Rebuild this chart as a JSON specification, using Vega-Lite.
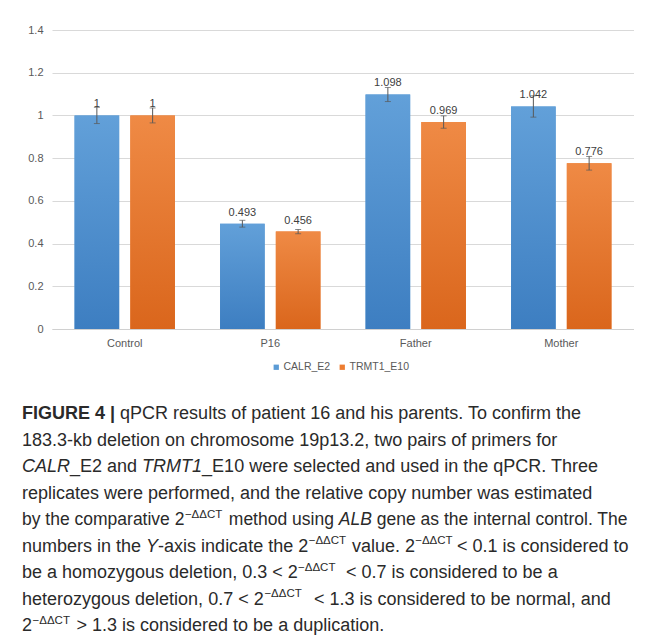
{
  "$schema": "https://vega.github.io/schema/vega-lite/v6.json",
  "background": "white",
  "padding": {"left": 22, "top": 24, "right": 0, "bottom": 0},
  "spacing": 57,
  "config": {
    "view": {"stroke": null},
    "font": "Liberation Sans",
    "text": {"color": "#2a2a2a", "font": "Liberation Sans", "fontSize": 18, "align": "left", "baseline": "alphabetic"}
  },
  "datasets": {
    "bars": [
      {"group": "Control", "series": "CALR_E2", "value": 1, "lo": 0.962, "hi": 1.038},
      {"group": "Control", "series": "TRMT1_E10", "value": 1, "lo": 0.965, "hi": 1.035},
      {"group": "P16", "series": "CALR_E2", "value": 0.493, "lo": 0.477, "hi": 0.509},
      {"group": "P16", "series": "TRMT1_E10", "value": 0.456, "lo": 0.446, "hi": 0.466},
      {"group": "Father", "series": "CALR_E2", "value": 1.098, "lo": 1.065, "hi": 1.131},
      {"group": "Father", "series": "TRMT1_E10", "value": 0.969, "lo": 0.94, "hi": 0.998},
      {"group": "Mother", "series": "CALR_E2", "value": 1.042, "lo": 0.992, "hi": 1.092},
      {"group": "Mother", "series": "TRMT1_E10", "value": 0.776, "lo": 0.744, "hi": 0.808}
    ],
    "caption": [
      {"id": "1a", "line": 1, "text": "FIGURE 4 |"},
      {"id": "1b", "line": 1, "text": "qPCR results of patient 16 and his parents. To confirm the"},
      {"id": "2a", "line": 2, "text": "183.3-kb deletion on chromosome 19p13.2, two pairs of primers for"},
      {"id": "3a", "line": 3, "text": "CALR"},
      {"id": "3b", "line": 3, "text": "_E2 and"},
      {"id": "3c", "line": 3, "text": "TRMT1"},
      {"id": "3d", "line": 3, "text": "_E10 were selected and used in the qPCR. Three"},
      {"id": "4a", "line": 4, "text": "replicates were performed, and the relative copy number was estimated"},
      {"id": "5a", "line": 5, "text": "by the comparative 2"},
      {"id": "5s", "line": 5, "text": "−ΔΔCT"},
      {"id": "5b", "line": 5, "text": "method using"},
      {"id": "5c", "line": 5, "text": "ALB"},
      {"id": "5d", "line": 5, "text": "gene as the internal control. The"},
      {"id": "6a", "line": 6, "text": "numbers in the"},
      {"id": "6b", "line": 6, "text": "Y"},
      {"id": "6c", "line": 6, "text": "-axis indicate the 2"},
      {"id": "6s1", "line": 6, "text": "−ΔΔCT"},
      {"id": "6d", "line": 6, "text": "value. 2"},
      {"id": "6s2", "line": 6, "text": "−ΔΔCT"},
      {"id": "6e", "line": 6, "text": "< 0.1 is considered to"},
      {"id": "7a", "line": 7, "text": "be a homozygous deletion, 0.3 < 2"},
      {"id": "7s", "line": 7, "text": "−ΔΔCT"},
      {"id": "7b", "line": 7, "text": "< 0.7 is considered to be a"},
      {"id": "8a", "line": 8, "text": "heterozygous deletion, 0.7 < 2"},
      {"id": "8s", "line": 8, "text": "−ΔΔCT"},
      {"id": "8b", "line": 8, "text": "< 1.3 is considered to be normal, and"},
      {"id": "9a", "line": 9, "text": "2"},
      {"id": "9s", "line": 9, "text": "−ΔΔCT"},
      {"id": "9b", "line": 9, "text": "> 1.3 is considered to be a duplication."}
    ]
  },
  "vconcat": [
    {
      "width": 582,
      "height": 299,
      "data": {"name": "bars"},
      "encoding": {
        "x": {
          "field": "group", "type": "nominal",
          "sort": ["Control", "P16", "Father", "Mother"],
          "scale": {"paddingInner": 0.31, "paddingOuter": 0.155},
          "axis": {"title": null, "labelAngle": 0, "ticks": false, "domain": true, "domainColor": "#d0d0d0", "labelPadding": 8, "labelFontSize": 11, "labelColor": "#595959", "labelFont": "Liberation Sans"}
        },
        "xOffset": {
          "field": "series", "type": "nominal",
          "sort": ["CALR_E2", "TRMT1_E10"],
          "scale": {"paddingInner": 0.2, "paddingOuter": 0}
        }
      },
      "layer": [
        {
          "mark": {"type": "bar"},
          "encoding": {
            "y": {
              "field": "value", "type": "quantitative", "title": null,
              "scale": {"domain": [0, 1.4], "nice": false},
              "axis": {"title": null, "values": [0, 0.2, 0.4, 0.6, 0.8, 1, 1.2, 1.4], "format": "~g", "ticks": false, "domain": false, "labelPadding": 9, "labelFontSize": 11, "labelColor": "#595959", "labelFont": "Liberation Sans", "gridColor": "#d9d9d9", "minExtent": 30, "maxExtent": 30}
            },
            "color": {
              "field": "series", "type": "nominal",
              "scale": {"domain": ["CALR_E2", "TRMT1_E10"], "range": ["#5b9bd5", "#ed7d31"]},
              "legend": {"title": null, "orient": "none", "legendX": 219, "legendY": 332, "direction": "horizontal", "gridAlign": "none", "symbolType": "square", "symbolSize": 28, "symbolStrokeWidth": 0, "labelFontSize": 10.5, "labelColor": "#595959", "labelFont": "Liberation Sans", "columnPadding": 6, "labelOffset": 2, "padding": 0}
            }
          }
        },
        {
          "mark": {"type": "bar"},
          "encoding": {
            "y": {"field": "value", "type": "quantitative", "title": null},
            "color": {
              "condition": {
                "test": "datum.series === 'CALR_E2'",
                "value": {"gradient": "linear", "x1": 0, "y1": 0, "x2": 0, "y2": 1, "stops": [{"offset": 0, "color": "#62a0d9"}, {"offset": 1, "color": "#3d7ec1"}]}
              },
              "value": {"gradient": "linear", "x1": 0, "y1": 0, "x2": 0, "y2": 1, "stops": [{"offset": 0, "color": "#ef8a45"}, {"offset": 1, "color": "#da661c"}]}
            }
          }
        },
        {
          "mark": {"type": "rule", "color": "#595959", "strokeWidth": 1},
          "encoding": {
            "y": {"field": "lo", "type": "quantitative", "title": null},
            "y2": {"field": "hi"}
          }
        },
        {
          "mark": {"type": "tick", "color": "#595959", "thickness": 1, "size": 6},
          "encoding": {"y": {"field": "lo", "type": "quantitative", "title": null}}
        },
        {
          "mark": {"type": "tick", "color": "#595959", "thickness": 1, "size": 6},
          "encoding": {"y": {"field": "hi", "type": "quantitative", "title": null}}
        },
        {
          "mark": {"type": "text", "align": "center", "baseline": "bottom", "dy": -6, "fontSize": 11, "color": "#404040"},
          "encoding": {
            "y": {"field": "value", "type": "quantitative", "title": null},
            "text": {"field": "value", "type": "quantitative", "format": "~g"}
          }
        }
      ]
    },
    {
      "width": 582,
      "height": 212,
      "data": {"name": "caption"},
      "encoding": {
        "x": {"value": -30},
        "y": {"field": "line", "type": "quantitative", "scale": {"domain": [1, 9], "nice": false, "zero": false, "reverse": true}, "axis": null},
        "text": {"field": "text", "type": "nominal"}
      },
      "layer": [
        {"transform": [{"filter": {"field": "id", "oneOf": ["2a", "4a", "6a", "7a", "8a", "9a"]}}], "mark": {"type": "text"}},
        {"transform": [{"filter": "datum.id === '1a'"}], "mark": {"type": "text", "fontWeight": "bold"}},
        {"transform": [{"filter": "datum.id === '1b'"}], "mark": {"type": "text", "dx": 98.1}},
        {"transform": [{"filter": "datum.id === '3a'"}], "mark": {"type": "text", "fontStyle": "italic"}},
        {"transform": [{"filter": "datum.id === '3b'"}], "mark": {"type": "text", "dx": 48}},
        {"transform": [{"filter": "datum.id === '3c'"}], "mark": {"type": "text", "fontStyle": "italic", "dx": 120.1}},
        {"transform": [{"filter": "datum.id === '3d'"}], "mark": {"type": "text", "dx": 180.1}},
        {"transform": [{"filter": "datum.id === '5a'"}], "mark": {"type": "text", "fontSize": 17.5}},
        {"transform": [{"filter": "datum.id === '5s'"}], "mark": {"type": "text", "fontSize": 11.5, "dy": -7.5, "dx": 162.9}},
        {"transform": [{"filter": "datum.id === '5b'"}], "mark": {"type": "text", "fontSize": 17.5, "dx": 206.8}},
        {"transform": [{"filter": "datum.id === '5c'"}], "mark": {"type": "text", "fontSize": 17.5, "fontStyle": "italic", "dx": 316.8}},
        {"transform": [{"filter": "datum.id === '5d'"}], "mark": {"type": "text", "fontSize": 17.5, "dx": 354.8}},
        {"transform": [{"filter": "datum.id === '6b'"}], "mark": {"type": "text", "fontStyle": "italic", "dx": 124.1}},
        {"transform": [{"filter": "datum.id === '6c'"}], "mark": {"type": "text", "dx": 136.1}},
        {"transform": [{"filter": "datum.id === '6s1'"}], "mark": {"type": "text", "fontSize": 11.5, "dy": -7.5, "dx": 286.7}},
        {"transform": [{"filter": "datum.id === '6d'"}], "mark": {"type": "text", "dx": 330}},
        {"transform": [{"filter": "datum.id === '6s2'"}], "mark": {"type": "text", "fontSize": 11.5, "dy": -7.5, "dx": 393.2}},
        {"transform": [{"filter": "datum.id === '6e'"}], "mark": {"type": "text", "dx": 435}},
        {"transform": [{"filter": "datum.id === '7s'"}], "mark": {"type": "text", "fontSize": 11.5, "dy": -7.5, "dx": 276}},
        {"transform": [{"filter": "datum.id === '7b'"}], "mark": {"type": "text", "dx": 324}},
        {"transform": [{"filter": "datum.id === '8s'"}], "mark": {"type": "text", "fontSize": 11.5, "dy": -7.5, "dx": 242.4}},
        {"transform": [{"filter": "datum.id === '8b'"}], "mark": {"type": "text", "dx": 292}},
        {"transform": [{"filter": "datum.id === '9s'"}], "mark": {"type": "text", "fontSize": 11.5, "dy": -7.5, "dx": 10.5}},
        {"transform": [{"filter": "datum.id === '9b'"}], "mark": {"type": "text", "dx": 54.5}}
      ]
    }
  ]
}
